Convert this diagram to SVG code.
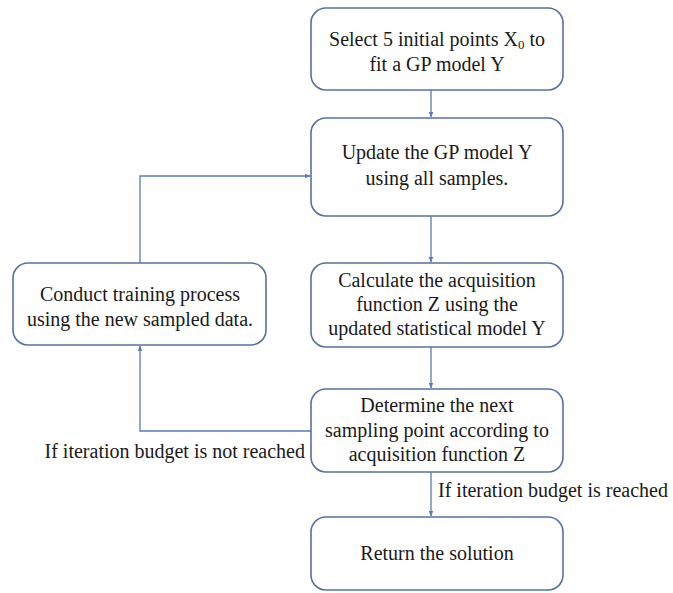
<svg xmlns="http://www.w3.org/2000/svg" width="673" height="593" viewBox="0 0 673 593">
<style>
.box{fill:#ffffff;stroke:#56729f;stroke-width:1.6}
.t{text-anchor:middle}
.c{fill:none;stroke:#5a7ab8;stroke-width:1.3}
</style>
<defs>
<marker id="ah" viewBox="0 0 10 10" refX="9" refY="5" markerWidth="6" markerHeight="6" orient="auto" markerUnits="userSpaceOnUse">
<path d="M0,1 L10,5 L0,9 z" fill="#5a7ab8"/>
</marker>
</defs>
<rect width="673" height="593" fill="#ffffff"/>
<g id="connectors">
<line class="c" x1="431" y1="90" x2="431" y2="117" marker-end="url(#ah)"/>
<line class="c" x1="431" y1="216" x2="431" y2="262" marker-end="url(#ah)"/>
<line class="c" x1="431" y1="347" x2="431" y2="388" marker-end="url(#ah)"/>
<line class="c" x1="431" y1="472" x2="431" y2="516" marker-end="url(#ah)"/>
<polyline class="c" points="311,431 140,431 140,346" marker-end="url(#ah)"/>
<polyline class="c" points="140,263 140,176 310,176" marker-end="url(#ah)"/>
</g>
<g font-family="'Liberation Serif', 'Times New Roman', 'DejaVu Serif', serif" font-size="20" fill="#1a1a1a">
<g id="n1">
<rect class="box" x="311" y="8" width="252" height="82" rx="15"/>
<text class="t" x="437" y="46">Select 5 initial points X<tspan font-size="13" dy="3">0</tspan><tspan dy="-3"> to</tspan></text>
<text class="t" x="437" y="71">fit a GP model Y</text>
</g>
<g id="n2">
<rect class="box" x="311" y="118" width="252" height="98" rx="15"/>
<text class="t" x="437" y="159">Update the GP model Y</text>
<text class="t" x="437" y="185">using all samples.</text>
</g>
<g id="n3">
<rect class="box" x="311" y="263" width="252" height="84" rx="15"/>
<text class="t" x="437" y="287">Calculate the acquisition</text>
<text class="t" x="437" y="311">function Z using the</text>
<text class="t" x="437" y="335">updated statistical model Y</text>
</g>
<g id="n4">
<rect class="box" x="311" y="389" width="252" height="83" rx="15"/>
<text class="t" x="437" y="412">Determine the next</text>
<text class="t" x="437" y="437">sampling point according to</text>
<text class="t" x="437" y="461">acquisition function Z</text>
</g>
<g id="n5">
<rect class="box" x="311" y="517" width="252" height="73" rx="15"/>
<text class="t" x="437" y="560">Return the solution</text>
</g>
<g id="n6">
<rect class="box" x="13" y="263" width="253" height="82" rx="15"/>
<text class="t" x="140" y="301">Conduct training process</text>
<text class="t" x="140" y="326">using the new sampled data.</text>
</g>
<g id="labels">
<text x="305" y="458" text-anchor="end">If iteration budget is not reached</text>
<text x="438" y="497">If iteration budget is reached</text>
</g>
</g>
</svg>
